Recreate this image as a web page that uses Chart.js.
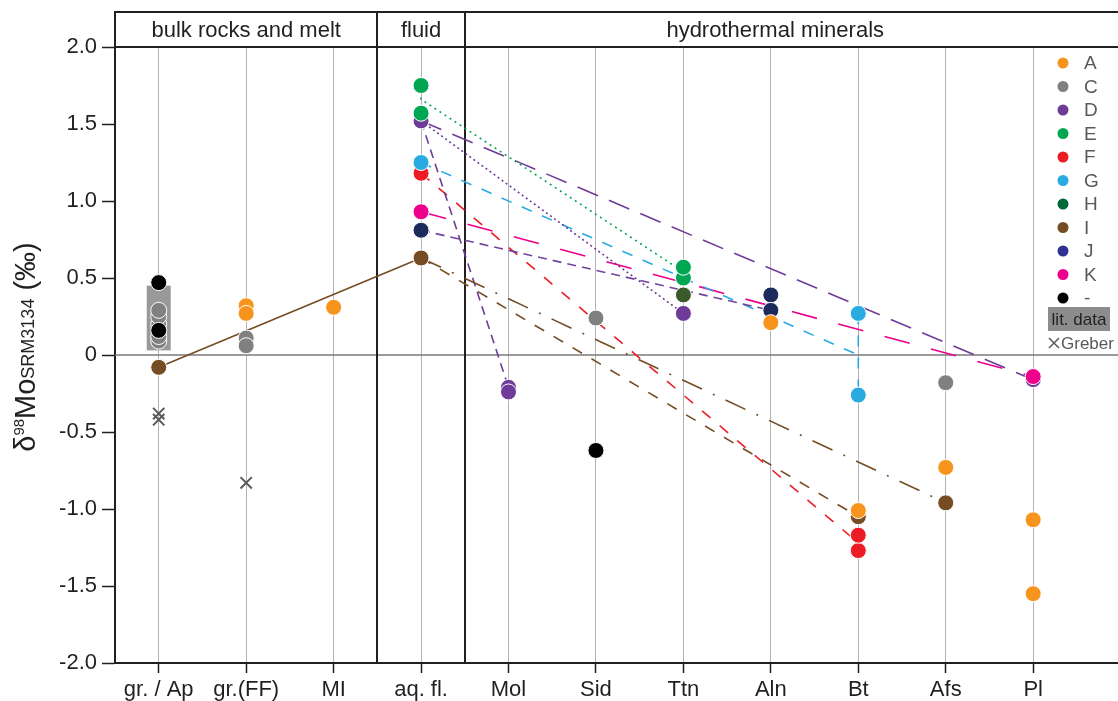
<!DOCTYPE html>
<html>
<head>
<meta charset="utf-8">
<script src="https://cdn.jsdelivr.net/npm/chart.js@4.4.1/dist/chart.umd.min.js"></script>
<style>
  html, body { margin: 0; padding: 0; background: #fff; }
  #wrap { width: 1118px; height: 701px; }
</style>
</head>
<body>
<div id="wrap"><canvas id="moChart"></canvas></div>
<script>
// categories along the x axis
const categories = ['gr. / Ap', 'gr.(FF)', 'MI', 'aq. fl.', 'Mol', 'Sid', 'Ttn', 'Aln', 'Bt', 'Afs', 'Pl'];
const yTickValues = [2, 1.5, 1, 0.5, 0, -0.5, -1, -1.5, -2];
const headerGroups = [
  { label: 'bulk rocks and melt', from: -0.5, to: 2.5 },
  { label: 'fluid', from: 2.5, to: 3.5 },
  { label: 'hydrothermal minerals', from: 3.5, to: 10.6 }
];

// d98Mo values per sample group: [category, value]
const valuesA = [['gr.(FF)', 0.32], ['gr.(FF)', 0.27], ['MI', 0.31], ['Aln', 0.21], ['Bt', -1.01], ['Afs', -0.73], ['Pl', -1.07], ['Pl', -1.55]];
const valuesC = [['gr. / Ap', 0.09], ['gr. / Ap', 0.12], ['gr. / Ap', 0.20], ['gr. / Ap', 0.25], ['gr. / Ap', 0.29], ['gr.(FF)', 0.11], ['gr.(FF)', 0.06], ['Sid', 0.24], ['Afs', -0.18]];
const valuesD = [['aq. fl.', 1.52], ['Mol', -0.21], ['Mol', -0.24], ['Ttn', 0.27], ['Pl', -0.16]];
const valuesE = [['aq. fl.', 1.75], ['aq. fl.', 1.57], ['Ttn', 0.50], ['Ttn', 0.57]];
const valuesF = [['aq. fl.', 1.18], ['Bt', -1.27], ['Bt', -1.17]];
const valuesG = [['aq. fl.', 1.25], ['Bt', 0.27], ['Bt', -0.26]];
const valuesH = [['Ttn', 0.39]];
const valuesI = [['gr. / Ap', -0.08], ['aq. fl.', 0.63], ['Bt', -1.05], ['Afs', -0.96]];
const valuesJ = [['aq. fl.', 0.81], ['Aln', 0.39], ['Aln', 0.29]];
const valuesK = [['aq. fl.', 0.93], ['Pl', -0.14]];
const valuesNone = [['gr. / Ap', 0.47], ['gr. / Ap', 0.16], ['Sid', -0.62]];
const valuesGreber = [['gr. / Ap', -0.38], ['gr. / Ap', -0.42], ['gr.(FF)', -0.83]];

// fluid -> mineral trend lines (null = break)
const trendE = [['aq. fl.', 1.75], ['aq. fl.', 1.66], ['Ttn', 0.54]];
const trendDmol = [['aq. fl.', 1.52], ['Mol', -0.21]];
const trendDttn = [['aq. fl.', 1.52], ['Ttn', 0.27]];
const trendDpl = [['aq. fl.', 1.52], ['Pl', -0.16]];
const trendJ = [['aq. fl.', 0.81], ['Aln', 0.29]];
const trendG = [['aq. fl.', 1.25], ['Bt', 0.0], null, ['Bt', 0.27], ['Bt', -0.26]];
const trendF = [['aq. fl.', 1.18], ['Bt', -1.22]];
const trendK = [['aq. fl.', 0.93], ['Pl', -0.14]];
const trendImelt = [['gr. / Ap', -0.08], ['aq. fl.', 0.63]];
const trendIbt = [['aq. fl.', 0.63], ['Bt', -1.05]];
const trendIafs = [['aq. fl.', 0.63], ['Afs', -0.96]];

// lit. data range at gr. / Ap
const litRange = [0.03, 0.45];

const legendItems = [
  ['A', '#f7941d'], ['C', '#808080'], ['D', '#6f3b98'], ['E', '#00a651'],
  ['F', '#ed1c24'], ['G', '#29abe2'], ['H', '#006838'], ['I', '#754c24'],
  ['J', '#2e3192'], ['K', '#ec008c'], ['-', '#000000']
];

const FONT = "'Liberation Sans', Arial, Helvetica, sans-serif";

function toPoints(list) {
  return list.map(p => p ? { x: categories.indexOf(p[0]), y: p[1] } : { x: 8, y: null });
}

function pointSet(label, list, color, order) {
  return {
    label: label,
    data: toPoints(list),
    backgroundColor: color,
    borderColor: '#ffffff',
    borderWidth: 1,
    pointRadius: 8,
    pointHoverRadius: 8,
    order: order
  };
}

function lineSet(label, list, color, dash) {
  return {
    label: label,
    data: toPoints(list),
    showLine: true,
    borderColor: color,
    borderWidth: 1.6,
    borderDash: dash,
    pointRadius: 0,
    pointHoverRadius: 0,
    fill: false,
    order: 50
  };
}

const datasets = [
  lineSet('I melt', trendImelt, '#754c24', []),
  lineSet('I Bt', trendIbt, '#754c24', [11, 11]),
  lineSet('I Afs', trendIafs, '#754c24', [22, 12, 2, 12]),
  lineSet('E', trendE, '#00a651', [2, 4]),
  lineSet('D Mol', trendDmol, '#6f3b98', [9, 6]),
  lineSet('D Ttn', trendDttn, '#6f3b98', [2, 3]),
  lineSet('D Pl', trendDpl, '#6f3b98', [22, 12]),
  lineSet('J', trendJ, '#6f43a0', [9, 6]),
  lineSet('G', trendG, '#29abe2', [11, 11]),
  lineSet('F', trendF, '#ed1c24', [11, 12]),
  lineSet('K', trendK, '#ec008c', [26, 22]),
  {
    label: 'Greber',
    data: toPoints(valuesGreber),
    pointStyle: 'crossRot',
    pointRadius: 8,
    borderColor: '#58595b',
    borderWidth: 2,
    order: 11
  },
  pointSet('C', valuesC, '#808080', 10),
  pointSet('D', valuesD, '#6f3b98', 9),
  pointSet('F', valuesF, '#ed1c24', 8),
  pointSet('I', valuesI, '#754c24', 7),
  pointSet('J', valuesJ, '#1d2b5c', 6),
  pointSet('H', valuesH, '#3a5a2c', 5),
  pointSet('-', valuesNone, '#000000', 4),
  pointSet('E', valuesE, '#00a651', 3),
  pointSet('G', valuesG, '#29abe2', 2),
  pointSet('K', valuesK, '#ec008c', 1),
  pointSet('A', valuesA, '#f7941d', 0)
];

// frame, header, zero line, lit. data box, legend and axis title
const decorPlugin = {
  id: 'decor',
  beforeDatasetsDraw(chart) {
    const ctx = chart.ctx;
    const a = chart.chartArea;
    const xs = chart.scales.x, ys = chart.scales.y;
    ctx.save();
    // zero line
    ctx.strokeStyle = '#7a7a7a';
    ctx.lineWidth = 1.5;
    ctx.beginPath();
    ctx.moveTo(a.left, ys.getPixelForValue(0));
    ctx.lineTo(a.right, ys.getPixelForValue(0));
    ctx.stroke();
    // lit. data box
    const bx = xs.getPixelForValue(0);
    ctx.fillStyle = '#999999';
    const top = ys.getPixelForValue(litRange[1]);
    const bot = ys.getPixelForValue(litRange[0]);
    ctx.fillRect(bx - 12, top, 24, bot - top);
    // group separators
    ctx.strokeStyle = '#231f20';
    ctx.lineWidth = 2;
    [2.5, 3.5].forEach(v => {
      const px = Math.round(xs.getPixelForValue(v));
      ctx.beginPath();
      ctx.moveTo(px, 12);
      ctx.lineTo(px, a.bottom);
      ctx.stroke();
    });
    ctx.restore();
  },
  afterDraw(chart) {
    const ctx = chart.ctx;
    const a = chart.chartArea;
    const xs = chart.scales.x;
    ctx.save();
    // header box
    ctx.strokeStyle = '#231f20';
    ctx.lineWidth = 2;
    ctx.beginPath();
    ctx.moveTo(a.left, 12); ctx.lineTo(chart.width, 12);
    ctx.moveTo(a.left, a.top); ctx.lineTo(chart.width, a.top);
    ctx.moveTo(a.left, 11); ctx.lineTo(a.left, a.top);
    ctx.stroke();
    ctx.fillStyle = '#231f20';
    ctx.font = '22px ' + FONT;
    ctx.textAlign = 'center';
    ctx.textBaseline = 'middle';
    headerGroups.forEach(g => {
      const cx = (xs.getPixelForValue(g.from) + xs.getPixelForValue(g.to)) / 2;
      ctx.fillText(g.label, cx, 31);
    });

    // legend
    const lx = 1063, ly0 = 63, step = 23.5;
    ctx.textAlign = 'left';
    ctx.font = '19px ' + FONT;
    legendItems.forEach((it, i) => {
      const y = ly0 + i * step;
      ctx.fillStyle = it[1];
      ctx.beginPath();
      ctx.arc(lx, y, 5.5, 0, Math.PI * 2);
      ctx.fill();
      ctx.fillStyle = '#58595b';
      ctx.fillText(it[0], lx + 21, y + 1);
    });
    ctx.fillStyle = '#8c8c8c';
    ctx.fillRect(1048, 307, 62, 24);
    ctx.fillStyle = '#231f20';
    ctx.textAlign = 'center';
    ctx.font = '17px ' + FONT;
    ctx.fillText('lit. data', 1079, 320);
    ctx.strokeStyle = '#58595b';
    ctx.lineWidth = 1.5;
    ctx.beginPath();
    ctx.moveTo(1049, 338); ctx.lineTo(1059, 348);
    ctx.moveTo(1059, 338); ctx.lineTo(1049, 348);
    ctx.stroke();
    ctx.fillStyle = '#58595b';
    ctx.textAlign = 'left';
    ctx.fillText('Greber', 1061, 344);

    // y axis title: δ98Mo(SRM3134) (‰)
    const parts = [
      { t: 'δ', size: 29, dy: 0 },
      { t: '98', size: 15, dy: -11 },
      { t: 'Mo', size: 29, dy: 0 },
      { t: 'SRM3134', size: 18, dy: -1 },
      { t: ' (‰)', size: 29, dy: 0 }
    ];
    let total = 0;
    parts.forEach(p => { ctx.font = p.size + 'px ' + FONT; p.w = ctx.measureText(p.t).width; total += p.w; });
    ctx.translate(35, 347);
    ctx.rotate(-Math.PI / 2);
    ctx.textBaseline = 'alphabetic';
    ctx.fillStyle = '#231f20';
    let x = -total / 2;
    parts.forEach(p => {
      ctx.font = p.size + 'px ' + FONT;
      ctx.fillText(p.t, x, p.dy);
      x += p.w;
    });
    ctx.restore();
  }
};

new Chart(document.getElementById('moChart'), {
  type: 'scatter',
  data: { datasets: datasets },
  options: {
    responsive: true,
    maintainAspectRatio: false,
    animation: false,
    layout: { autoPadding: false, padding: { top: 47, left: 0, right: 0, bottom: 0 } },
    plugins: {
      legend: { display: false },
      tooltip: { enabled: false }
    },
    scales: {
      x: {
        type: 'linear',
        min: -0.5,
        max: 10.97,
        afterBuildTicks: axis => { axis.ticks = categories.map((c, i) => ({ value: i })); },
        afterFit: axis => { axis.height = 38; },
        ticks: {
          callback: v => categories[v],
          autoSkip: false,
          maxRotation: 0,
          padding: 4,
          color: '#231f20',
          font: { size: 22, family: FONT }
        },
        grid: { color: '#b3b3b3', lineWidth: 1, tickColor: '#231f20', tickLength: 10, tickWidth: 1.5 },
        border: { color: '#231f20', width: 2 }
      },
      y: {
        min: -2,
        max: 2,
        afterBuildTicks: axis => { axis.ticks = yTickValues.map(v => ({ value: v })); },
        afterFit: axis => { axis.width = 115; },
        ticks: {
          callback: v => v === 0 ? '0' : v.toFixed(1),
          padding: 5,
          color: '#231f20',
          font: { size: 22, family: FONT }
        },
        grid: { drawOnChartArea: false, tickColor: '#231f20', tickLength: 13, tickWidth: 1.5 },
        border: { color: '#231f20', width: 2 }
      }
    }
  },
  plugins: [decorPlugin]
});
</script>
</body>
</html>
